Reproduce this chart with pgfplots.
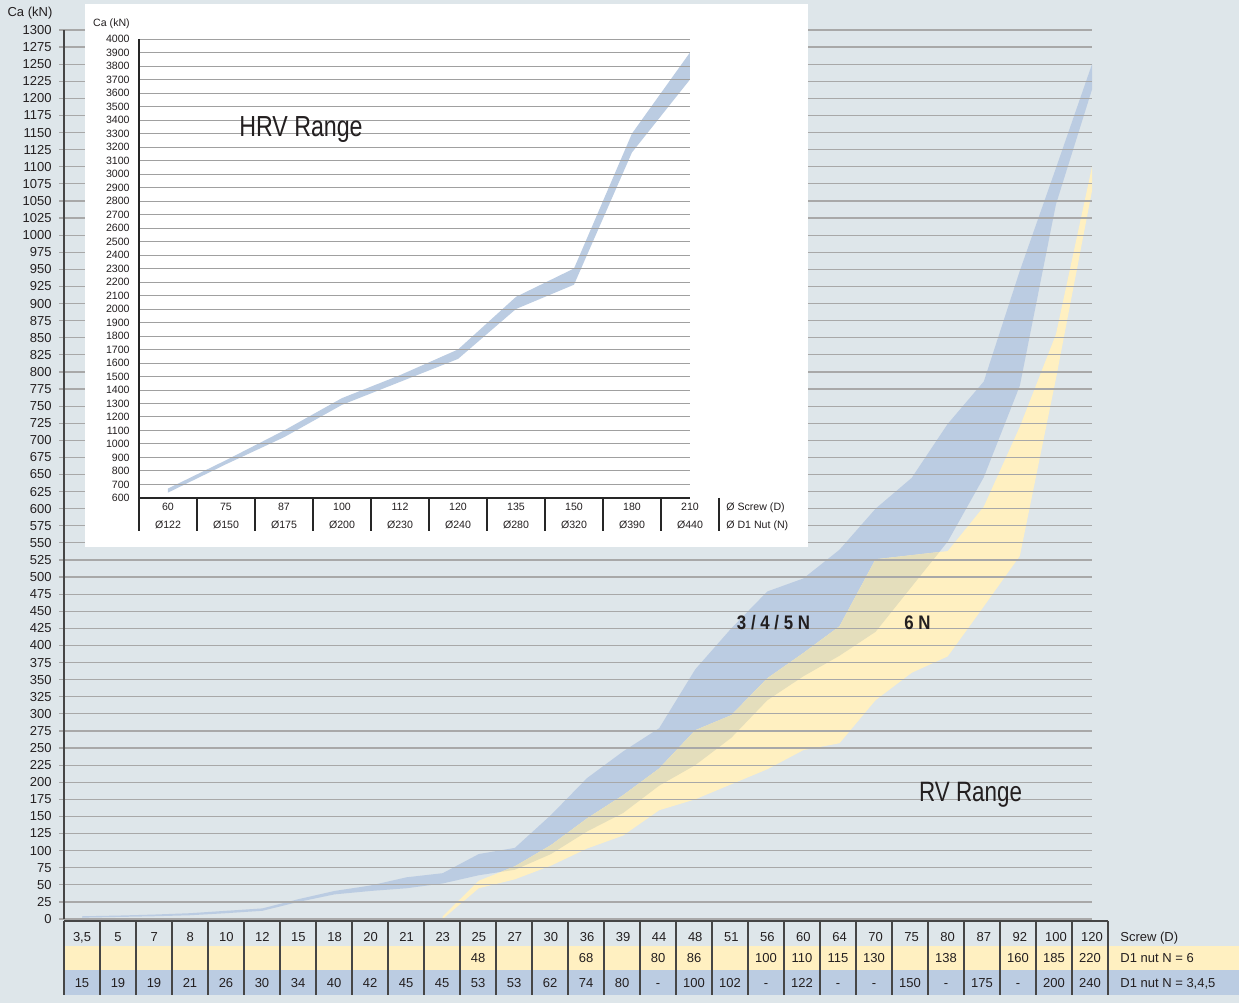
\documentclass[border=0pt]{standalone}
\usepackage{pgfplots}
\pgfplotsset{compat=1.18}
\usepackage{fontspec}
\setmainfont{Liberation Sans}
\newfontfamily\condfont[FakeStretch=0.8]{Liberation Sans}
\newfontfamily\condbold[FakeStretch=0.86]{Liberation Sans}

\definecolor{bg}{RGB}{222,230,234}
\definecolor{gridc}{RGB}{168,168,168}
\definecolor{bandblue}{RGB}{187,204,226}
\definecolor{bandyel}{RGB}{255,240,193}
\definecolor{bandolive}{RGB}{228,222,188}
\definecolor{rowyel}{RGB}{255,240,193}
\definecolor{rowblue}{RGB}{187,204,226}
\definecolor{txt}{RGB}{35,31,32}
\definecolor{axisc}{RGB}{70,70,70}
\definecolor{insetgrid}{RGB}{160,160,160}

\begin{document}
\begin{tikzpicture}[x=1pt,y=1pt]
\fill[bg] (0,0) rectangle (619.5,501.5);
% table row backgrounds
\fill[rowyel] (32,16.5) rectangle (619.5,28.5);
\fill[rowblue] (32,4) rectangle (619.5,16.5);

\begin{axis}[
  at={(32pt,42pt)}, anchor=south west, scale only axis,
  width=514pt, height=444.5pt,
  xmin=-0.5, xmax=28, ymin=0, ymax=1300,
  axis on top,
  axis lines*=left,
  x axis line style={draw=none},
  y axis line style={draw=axisc, line width=0.6pt},
  ytick={0,25,...,1300},
  ymajorgrids, major grid style={draw=gridc, line width=0.6pt},
  ytick align=outside, major tick length=2.5pt,
  ytick style={draw=gridc, line width=0.6pt},
  yticklabel style={font=\fontsize{6.5}{7}\selectfont, text=txt, anchor=east, inner sep=0pt, xshift=-3.5pt},
  xtick={0,...,28}, xtick style={draw=none},
  xticklabels={{3,5},5,7,8,10,12,15,18,20,21,23,25,27,30,36,39,44,48,51,56,60,64,70,75,80,87,92,100,120},
  xticklabel style={font=\fontsize{6.5}{7}\selectfont, text=txt, anchor=base, inner sep=0pt, yshift=-11.35pt},
  /pgf/number format/assume math mode=true,
  /pgf/number format/1000 sep={},
]
% 3/4/5 N band: upper edge left to right, then lower edge right to left
\addplot[fill=bandblue, draw=none] coordinates {
 (0,4) (1,5) (2,6.5) (3,8.5) (4,12) (5,15.5) (6,29) (7,41) (8,49) (9,61)
 (10,67) (11,95) (12,104) (13,152) (14,206) (15,245) (16,279) (17,365) (18,425)
 (19,479) (20,498) (21,540) (22,600) (23,645) (24,724) (25,786) (26,948) (27,1098) (28,1250)
 (28,1213) (27,1045) (26,780) (25,646) (24,552) (23,486) (22,420) (21,385) (20,355)
 (19,320) (18,265) (17,225) (16,195) (15,155) (14,128) (13,95) (12,72) (11,64) (10,52)
 (9,45) (8,41) (7,36) (6,25) (5,12) (4,8.5) (3,5.5) (2,4) (1,3) (0,2)
} -- cycle;
% 6 N band
\addplot[fill=bandyel, draw=none] coordinates {
 (10,4) (11,56) (12,77) (13,108) (14,147) (15,181) (16,220) (17,276) (18,298)
 (19,352) (20,389) (21,428) (22,526) (23,532) (24,538) (25,603) (26,720) (27,855) (28,1100)
 (28,1065) (27,790) (26,531) (25,457) (24,384) (23,360) (22,320) (21,257) (20,247)
 (19,219) (18,197) (17,175) (16,159) (15,122) (14,103) (13,78) (12,58) (11,45) (10,0)
} -- cycle;
% overlap of the two bands
\addplot[fill=bandolive, draw=none] coordinates {
 (11.615,68.9) (12,77) (13,108) (14,147) (15,181) (16,220) (17,276) (18,298)
 (19,352) (20,389) (21,428) (22,526) (23,532) (23.767,536.6)
 (23,486) (22,420) (21,385) (20,355) (19,320) (18,265) (17,225) (16,195)
 (15,155) (14,128) (13,95) (12,72)
} -- cycle;
\end{axis}

% table lines
\draw[axisc, line width=0.6pt] (32,41) -- (554,41);
\foreach \k in {0,...,29} \draw[axisc, line width=0.6pt] ({32+18*\k},41) -- ({32+18*\k},4);
% table rows
\foreach \i/\v in {11/48,14/68,16/80,17/86,19/100,20/110,21/115,22/130,24/138,26/160,27/185,28/220}
  \node[font=\fontsize{6.5}{7}\selectfont, text=txt, anchor=base, inner sep=0pt] at ({41+18*\i},20.2) {\v};
\foreach \v [count=\c from 0] in {15,19,19,21,26,30,34,40,42,45,45,53,53,62,74,80,-,100,102,-,122,-,-,150,-,175,-,200,240}
  \node[font=\fontsize{6.5}{7}\selectfont, text=txt, anchor=base, inner sep=0pt] at ({41+18*\c},7.7) {\v};
\node[font=\fontsize{6.5}{7}\selectfont, text=txt, anchor=base west, inner sep=0pt] at (560,30.65) {Screw (D)};
\node[font=\fontsize{6.5}{7}\selectfont, text=txt, anchor=base west, inner sep=0pt] at (560,20.2) {D1 nut N = 6};
\node[font=\fontsize{6.5}{7}\selectfont, text=txt, anchor=base west, inner sep=0pt] at (560,7.7) {D1 nut N = 3,4,5};
\node[font=\fontsize{6.5}{7}\selectfont, text=txt, anchor=base, inner sep=0pt] at (15,493.25) {Ca (kN)};
% band labels
\node[font=\condbold\bfseries\fontsize{9.8}{11}\selectfont, text=txt, anchor=base, inner sep=0pt] at (386.75,186.5) {3 / 4 / 5 N};
\node[font=\condbold\bfseries\fontsize{9.8}{11}\selectfont, text=txt, anchor=base, inner sep=0pt] at (458.75,186.5) {6 N};
\node[font=\condfont\fontsize{14}{16}\selectfont, text=txt, anchor=base, inner sep=0pt] at (485.3,100.65) {RV Range};

% inset
\fill[white] (42.5,228) rectangle (404,499.5);
\begin{axis}[
  at={(69.5pt,252.5pt)}, anchor=south west, scale only axis,
  width=275.5pt, height=229.5pt,
  xmin=-0.5, xmax=9, ymin=600, ymax=4000,
  axis on top, axis lines*=left,
  axis line style={draw=black!85, line width=0.6pt},
  ytick={600,700,...,4000},
  ymajorgrids, major grid style={draw=insetgrid, line width=0.5pt},
  ytick style={draw=none},
  yticklabel style={font=\fontsize{5.3}{6}\selectfont, text=txt, anchor=east, inner sep=0pt, xshift=-4.5pt},
  xtick={0,...,9}, xtick style={draw=none},
  xticklabels={60,75,87,100,112,120,135,150,180,210},
  xticklabel style={font=\fontsize{5.3}{6}\selectfont, text=txt, anchor=base, inner sep=0pt, yshift=-6.4pt},
  /pgf/number format/assume math mode=true,
  /pgf/number format/1000 sep={},
]
% HRV band: upper edge, then lower edge back
\addplot[fill=bandblue, draw=none] coordinates {
 (0,670) (1,880) (2,1100) (3,1340) (4,1510) (5,1700) (6,2090) (7,2300) (8,3300) (9,3900)
 (9,3700) (8,3160) (7,2180) (6,2000) (5,1630) (4,1460) (3,1290) (2,1050) (1,850) (0,640)
} -- cycle;
\end{axis}
\foreach \k in {0,...,10} \draw[black!85, line width=0.6pt] ({69.5+29*\k},252.5) -- ({69.5+29*\k},236);
\foreach \v [count=\c from 0] in {Ø122,Ø150,Ø175,Ø200,Ø230,Ø240,Ø280,Ø320,Ø390,Ø440}
  \node[font=\fontsize{5.3}{6}\selectfont, text=txt, anchor=base, inner sep=0pt] at ({84+29*\c},237.1) {\v};
\node[font=\fontsize{5.3}{6}\selectfont, text=txt, anchor=base west, inner sep=0pt] at (363,246.1) {Ø Screw (D)};
\node[font=\fontsize{5.3}{6}\selectfont, text=txt, anchor=base west, inner sep=0pt] at (363,237.1) {Ø D1 Nut (N)};
\node[font=\fontsize{5.3}{6}\selectfont, text=txt, anchor=base, inner sep=0pt] at (55.75,488) {Ca (kN)};
\node[font=\condfont\fontsize{14.5}{16}\selectfont, text=txt, anchor=base, inner sep=0pt] at (150.5,433) {HRV Range};
\end{tikzpicture}
\end{document}
